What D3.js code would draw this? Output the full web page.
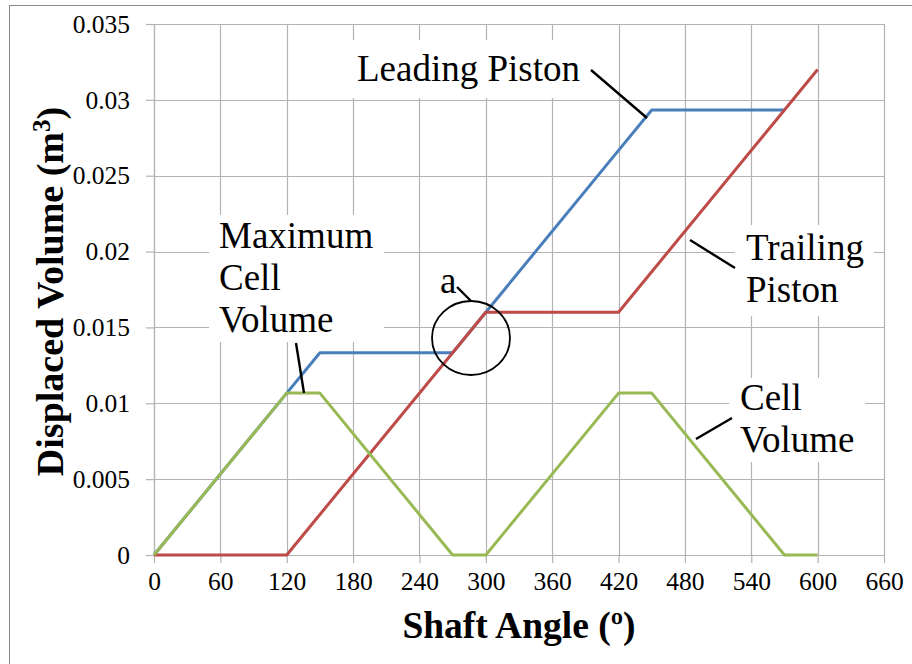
<!DOCTYPE html>
<html><head><meta charset="utf-8">
<script src="https://cdn.jsdelivr.net/npm/d3@7"></script>
<style>body{margin:0;background:#fff}svg{display:block}</style>
</head><body><svg id="c" width="912" height="664"></svg>
<script>
// Data
const angles = [0, 120, 150, 270, 300, 420, 450, 570, 600];
const leadingPiston = [0, 0.01067, 0.01333, 0.01333, 0.016, 0.02667, 0.02933, 0.02933, null];
const trailingPiston = [0, 0, 0.00267, 0.01333, 0.016, 0.016, 0.01867, 0.02933, 0.032];
const cellVolume = [0, 0.01067, 0.01067, 0, 0, 0.01067, 0.01067, 0, 0];
const xTicks = [0, 60, 120, 180, 240, 300, 360, 420, 480, 540, 600, 660];
const yTicks = [0, 0.005, 0.01, 0.015, 0.02, 0.025, 0.03, 0.035];
const yTickLabels = ["0", "0.005", "0.01", "0.015", "0.02", "0.025", "0.03", "0.035"];

const FONT = "'Liberation Serif'";
const svg = d3.select("#c");
const L = 154, R = 884, T = 24, B = 555;
const x = d3.scaleLinear().domain([0, 660]).range([L, R]);
const y = d3.scaleLinear().domain([0, 0.035]).range([B, T]);
const gridC = "#b3b3b3";

// outer border
svg.append("rect").attr("x", 9.5).attr("y", 5.5).attr("width", 920).attr("height", 680)
  .attr("fill", "none").attr("stroke", "#8c8c8c").attr("stroke-width", 1);

// gridlines
const g = svg.append("g");
g.selectAll(".hg").data(yTicks).join("line")
  .attr("x1", L).attr("x2", R).attr("y1", d => Math.round(y(d)) + 0.5).attr("y2", d => Math.round(y(d)) + 0.5)
  .attr("stroke", gridC).attr("stroke-width", 1.2);
g.selectAll(".vg").data(xTicks).join("line")
  .attr("y1", T).attr("y2", B).attr("x1", d => Math.round(x(d)) + 0.5).attr("x2", d => Math.round(x(d)) + 0.5)
  .attr("stroke", gridC).attr("stroke-width", 1.2);

// axes
const yAxis = d3.axisLeft(y).tickValues(yTicks).tickFormat((d, i) => yTickLabels[i]).tickSize(8).tickPadding(16);
const xAxis = d3.axisBottom(x).tickValues(xTicks).tickSize(8).tickPadding(9);
const ya = svg.append("g").attr("transform", `translate(${L},0)`).call(yAxis);
const xa = svg.append("g").attr("transform", `translate(0,${B})`).call(xAxis);
[ya, xa].forEach(a => {
  a.attr("font-family", FONT).attr("font-size", 25.5);
  a.select(".domain").attr("stroke", gridC).attr("stroke-width", 1.2);
  a.selectAll(".tick line").attr("stroke", gridC).attr("stroke-width", 1.2);
  a.selectAll(".tick text").style("font-family", FONT).style("font-size", "25.5px").attr("fill", "#000");
});
xa.select(".domain").attr("d", `M${L},0.5H${R}`);
ya.select(".domain").attr("d", `M0.5,${T}V${B}`);

// series
const series = [
  {vals: leadingPiston, color: "#4a7ebb"},
  {vals: trailingPiston, color: "#be4b48"},
  {vals: cellVolume, color: "#98b954"}
];
const line = d3.line().defined(d => d[1] != null).x(d => x(d[0])).y(d => y(d[1]));
series.forEach(s => {
  svg.append("path").datum(angles.map((a, i) => [a, s.vals[i]]))
    .attr("d", line).attr("fill", "none").attr("stroke", s.color)
    .attr("stroke-width", 3).attr("stroke-linejoin", "round");
});

// annotations
function txt(x0, y0, t) {
  return svg.append("text").attr("x", x0).attr("y", y0).style("font-family", FONT).style("font-size", "37px").attr("fill", "#000").text(t);
}
function label(lines, x0, y0, lh, box) {
  svg.append("rect").attr("x", box[0]).attr("y", box[1]).attr("width", box[2] - box[0]).attr("height", box[3] - box[1]).attr("fill", "#fff");
  lines.forEach((t, i) => txt(x0, y0 + i * lh, t));
}
function leader(x1, y1, x2, y2) {
  svg.append("line").attr("x1", x1).attr("y1", y1).attr("x2", x2).attr("y2", y2)
    .attr("stroke", "#000").attr("stroke-width", 2.4);
}
label(["Leading Piston"], 357, 81, 42, [345, 40, 592, 98]);
leader(591, 70, 647, 118);
label(["Maximum", "Cell", "Volume"], 219, 248, 42, [209, 215, 384, 342]);
leader(296, 343, 304, 393);
label(["Trailing", "Piston"], 746, 260, 42, [735, 225, 874, 316]);
leader(690, 240, 735, 268);
label(["Cell", "Volume"], 740, 410, 42, [729, 378, 865, 462]);
leader(732, 418, 696, 439);
txt(440, 293, "a");
leader(457, 287, 471, 301);
svg.append("ellipse").attr("cx", 471).attr("cy", 338).attr("rx", 39).attr("ry", 37)
  .attr("fill", "none").attr("stroke", "#000").attr("stroke-width", 1.8);

// axis titles
svg.append("text").attr("x", (L + R) / 2).attr("y", 638).attr("text-anchor", "middle")
  .style("font-family", FONT).style("font-size", "37.5px").style("font-weight", "bold").text("Shaft Angle (º)");
const yt = svg.append("text").attr("transform", `translate(63,${(T + B) / 2 + 2}) rotate(-90)`)
  .attr("text-anchor", "middle").style("font-family", FONT).style("font-size", "38px").style("font-weight", "bold");
yt.append("tspan").text("Displaced Volume (m");
yt.append("tspan").attr("dy", -13).style("font-size", "25px").text("3");
yt.append("tspan").attr("dy", 13).text(")");
</script></body></html>
